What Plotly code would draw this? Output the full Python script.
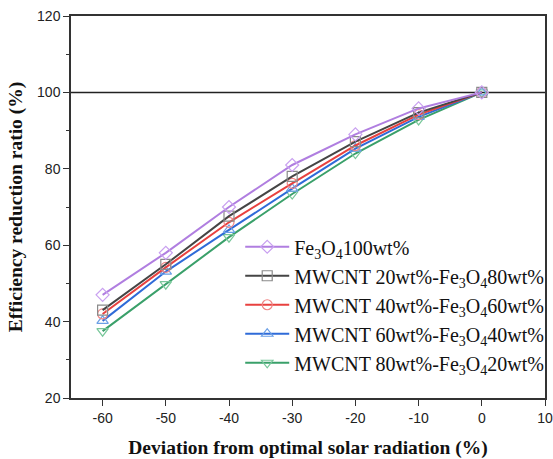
import plotly.graph_objects as go

deviation = [-60, -50, -40, -30, -20, -10, 0]
fe3o4_100 = [47, 58, 70, 81, 89, 95.8, 100]
mw20_fe80 = [43, 55, 67.6, 78, 87.1, 94.7, 100]
mw40_fe60 = [42, 54.2, 66, 76.2, 86.1, 94.2, 100]
mw60_fe40 = [40.2, 53.1, 64, 74.8, 85.3, 93.6, 100]
mw80_fe20 = [37.5, 49.8, 62.1, 73.4, 84, 92.8, 100]
reference_level = 100

x_tickvals = [-60, -50, -40, -30, -20, -10, 0, 10]
x_ticktext = ["-60", "-50", "-40", "-30", "-20", "-10", "0", "10"]
y_tickvals = [20, 40, 60, 80, 100, 120]

series = [
    ("Fe<sub>3</sub>O<sub>4</sub>100wt%", fe3o4_100, "#B07EE0", "#C9A0F0", "diamond-open"),
    ("MWCNT 20wt%-Fe<sub>3</sub>O<sub>4</sub>80wt%", mw20_fe80, "#454545", "#8A8A8A", "square-open"),
    ("MWCNT 40wt%-Fe<sub>3</sub>O<sub>4</sub>60wt%", mw40_fe60, "#E8413F", "#F08585", "circle-open"),
    ("MWCNT 60wt%-Fe<sub>3</sub>O<sub>4</sub>40wt%", mw60_fe40, "#2F6BD8", "#6A9FE6", "triangle-up-open"),
    ("MWCNT 80wt%-Fe<sub>3</sub>O<sub>4</sub>20wt%", mw80_fe20, "#3AA06A", "#78C79A", "triangle-down-open"),
]

fig = go.Figure()
for rank, (name, vals, lc, mc, sym) in reversed(list(enumerate(series))):
    fig.add_trace(go.Scatter(
        x=deviation, y=vals, name=name, mode="lines+markers",
        line=dict(color=lc, width=2),
        marker=dict(symbol=sym, size=10, color=mc, line=dict(width=1.2, color=mc)),
        legendrank=rank + 1,
    ))

fig.add_shape(type="line", xref="paper", x0=0, x1=1, yref="y", y0=reference_level, y1=reference_level,
              line=dict(color="#222222", width=1.5), layer="below")

axis_common = dict(
    showline=True, linecolor="#333333", linewidth=1.5, mirror=True,
    ticks="outside", ticklen=6, tickwidth=1.2, tickcolor="#333333",
    showgrid=False, zeroline=False, automargin=False,
    tickfont=dict(family="Liberation Sans, Arial", size=14, color="#222222"),
)
title_font = dict(family="Liberation Serif, Times New Roman", size=19.5, color="#111111", weight="bold")

fig.update_layout(
    width=553, height=459,
    margin=dict(l=71, r=8, t=16, b=61, autoexpand=False),
    paper_bgcolor="white", plot_bgcolor="white",
    xaxis=dict(range=[-65, 10], tickvals=x_tickvals, ticktext=x_ticktext,
               title=dict(text="Deviation from optimal solar radiation (%)", font=title_font, standoff=21),
               **axis_common),
    yaxis=dict(range=[20, 120], tickvals=y_tickvals,
               minor=dict(ticks="outside", ticklen=3, dtick=10, tick0=20, tickcolor="#333333", tickwidth=1.2),
               title=dict(text="Efficiency reduction ratio (%)", font=title_font, standoff=9),
               **axis_common),
    legend=dict(x=0.357, y=0.447, xanchor="left", yanchor="top",
                bgcolor="rgba(0,0,0,0)", itemwidth=44,
                font=dict(family="Liberation Serif, Times New Roman", size=20, color="#111111"),
                tracegroupgap=0),
    showlegend=True,
)

fig.write_html("out.html", include_plotlyjs=True, config={"displayModeBar": False},
               post_script="document.body.style.margin='0';document.body.style.padding='0';")
